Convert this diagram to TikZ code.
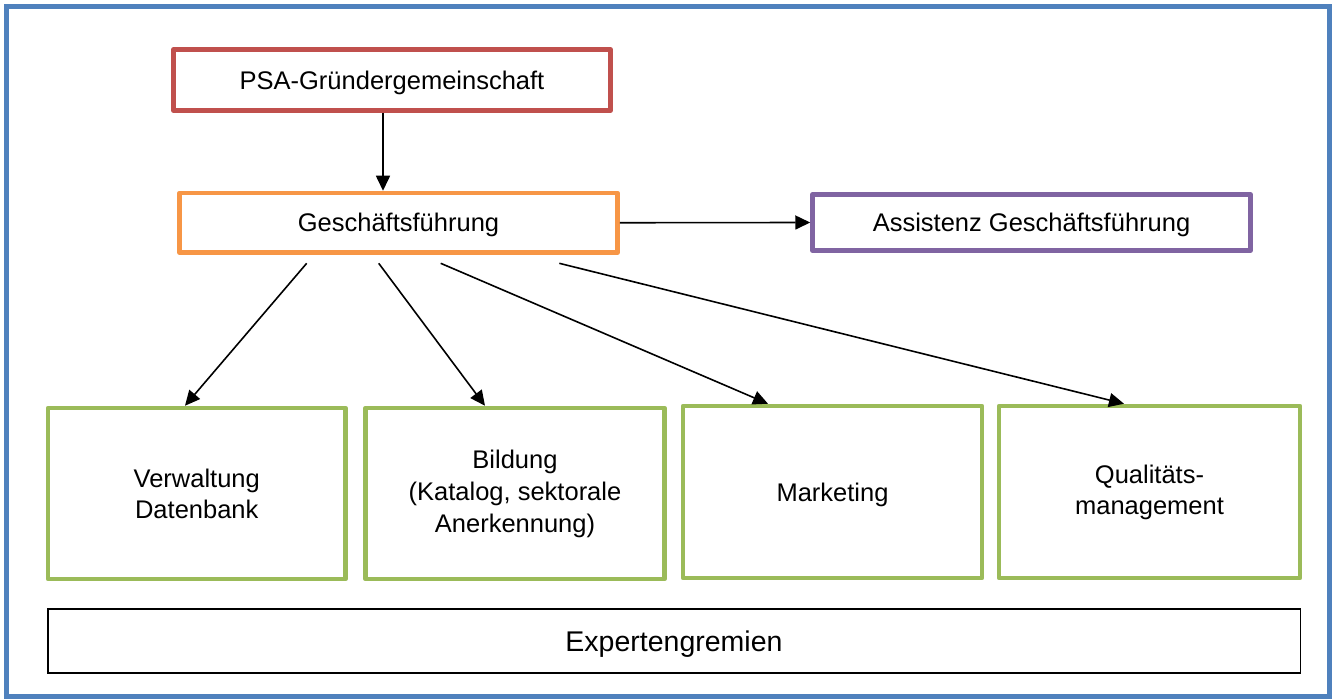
\documentclass[tikz,border=0pt]{standalone}
\usepackage{fontspec}
\setmainfont{Liberation Sans}
\usetikzlibrary{arrows.meta}
\definecolor{framebl}{RGB}{79,129,189}
\definecolor{boxred}{RGB}{192,80,77}
\definecolor{boxora}{RGB}{247,150,70}
\definecolor{boxpur}{RGB}{128,100,162}
\definecolor{boxgrn}{RGB}{155,187,89}
\tikzset{
  lbox/.style={draw, line width=4.5pt, line join=round, fill=white, align=center, inner sep=0pt, font=\fontsize{25.5}{31}\selectfont},
  gbox/.style={lbox, draw=boxgrn},
  oneline/.style={text depth=0pt},
  arr/.style={-{Triangle[length=15pt,width=14pt]}, line width=1.6pt, black},
}
\begin{document}
\begin{tikzpicture}[x=1pt,y=-1pt]
\useasboundingbox (0,0) rectangle (1334,700);
\fill[white] (0,0) rectangle (1334,700);
\draw[framebl, line width=5pt] (6.5,6.5) rectangle (1329,696);

\node[lbox, oneline, draw=boxred, minimum width=437pt, minimum height=61pt] (psa) at (392,80) {PSA-Gründergemeinschaft};
\node[lbox, oneline, draw=boxora, minimum width=438pt, minimum height=59.5pt] (gf) at (398.5,222.75) {Geschäftsführung};
\node[lbox, oneline, draw=boxpur, minimum width=438pt, minimum height=56pt] (asst) at (1031.5,222.5) {Assistenz Geschäftsführung};

\node[gbox, minimum width=297.5pt, minimum height=171pt] (verw) at (196.75,493.5) {Verwaltung\\Datenbank};
\node[gbox, font=\fontsize{25.5}{32}\selectfont, minimum width=299pt, minimum height=171pt] (bild) at (515,493.5) {Bildung\\(Katalog, sektorale\\Anerkennung)};
\node[gbox, oneline, minimum width=299pt, minimum height=172pt] (mark) at (832.5,492) {Marketing};
\node[gbox, minimum width=301pt, minimum height=172pt] (qual) at (1149.5,492) {Qualitäts-\\management};

\node[draw, oneline, line width=1.5pt, minimum width=1252.5pt, minimum height=64pt, inner sep=0pt, font=\fontsize{28.5}{34}\selectfont] (exp) at (674,641) {Expertengremien};

\coordinate (s1) at (306.7,263.3);
\coordinate (s2) at (378.7,263.3);
\coordinate (s3) at (440.7,263.3);
\coordinate (s4) at (559.3,263.3);

\draw[arr] ([xshift=-9pt]psa.south) -- ([xshift=-9pt]psa.south |- gf.north);
\draw[arr] (gf.east) -- (asst.west);
\draw[arr] (s1) -- ([xshift=139.25pt]verw.north west);
\draw[arr] (s2) -- ([xshift=121.75pt]bild.north west);
\draw[arr] (s3) -- ([xshift=87.25pt]mark.north west);
\draw[arr] (s4) -- ([xshift=127.25pt]qual.north west);
\end{tikzpicture}
\end{document}
